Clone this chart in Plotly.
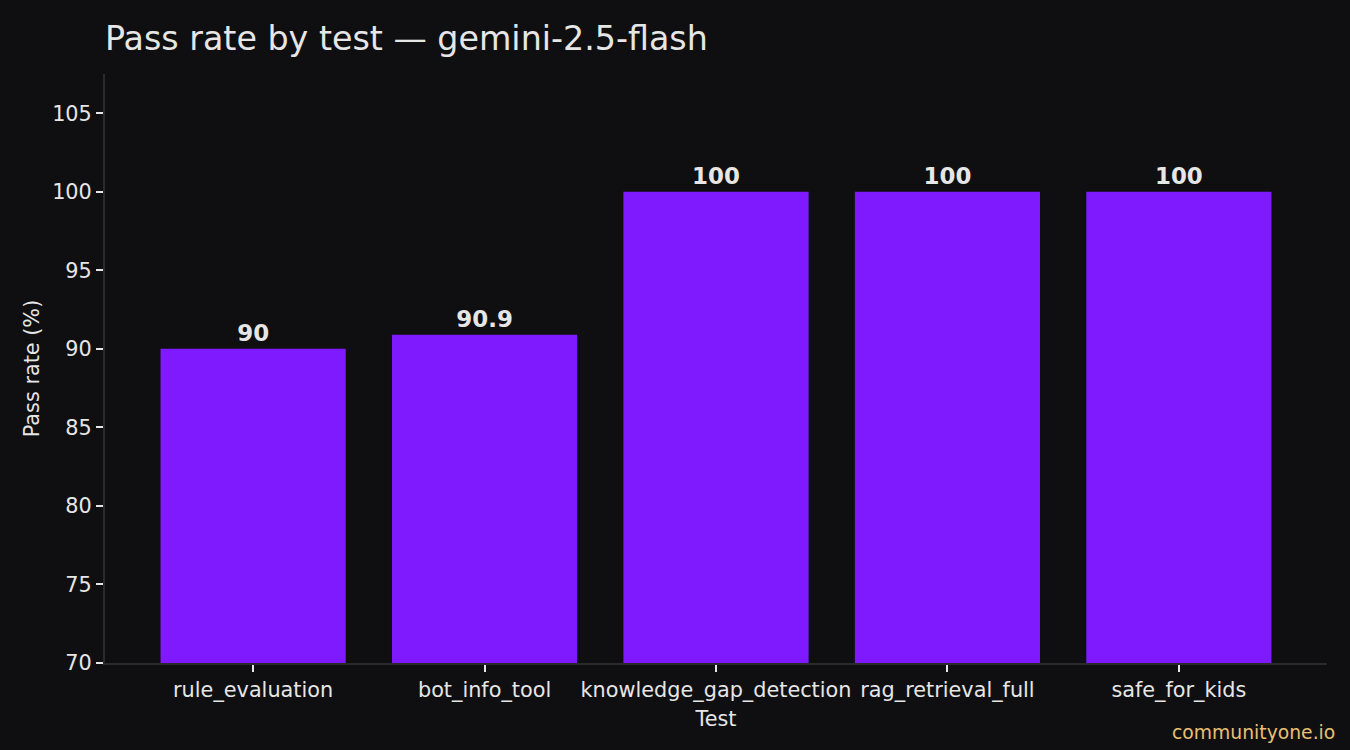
import plotly.graph_objects as go

tests = ["rule_evaluation", "bot_info_tool", "knowledge_gap_detection", "rag_retrieval_full", "safe_for_kids"]
pass_rates = [90, 90.9, 100, 100, 100]
labels = ["90", "90.9", "100", "100", "100"]

BG = "#0f0f11"
TXT = "#e6e6e6"
SPINE = "#2a2a2d"
BAR = "#7f1aff"
FONT = "DejaVu Sans"
FS = 20.8

fig = go.Figure(go.Bar(
    x=list(range(len(tests))), y=pass_rates, width=0.8,
    marker=dict(color=BAR, line=dict(width=0)),
    text=labels, textposition="outside", cliponaxis=False,
    texttemplate="<b>%{text}</b>",
    textfont=dict(family=FONT, size=22.9, color=TXT),
))

fig.update_layout(
    width=1350, height=750,
    paper_bgcolor=BG, plot_bgcolor=BG,
    margin=dict(l=105, r=23, t=74, b=87),
    font=dict(family=FONT, color=TXT, size=FS),
    title=dict(text="Pass rate by test — gemini-2.5-flash", x=105/1350, xanchor="left",
               y=1 - 38/750, yanchor="middle", font=dict(size=33.3, color=TXT, family=FONT)),
    showlegend=False,
    bargap=0.2,
)
fig.update_xaxes(
    range=[-0.64, 4.64], tickmode="array", tickvals=list(range(len(tests))), ticktext=tests,
    showgrid=False, zeroline=False, showline=True, linecolor=SPINE, linewidth=2,
    ticks="outside", ticklen=7, tickcolor=TXT, tickwidth=1.5,
    title=dict(text="Test", font=dict(size=FS, color=TXT), standoff=10),
    tickfont=dict(size=FS, color=TXT),
)
fig.update_yaxes(
    range=[70, 107.5], tickvals=[70, 75, 80, 85, 90, 95, 100, 105],
    showgrid=False, zeroline=False, showline=True, linecolor=SPINE, linewidth=2,
    ticks="outside", ticklen=7, tickcolor=TXT, tickwidth=1.5,
    title=dict(text="Pass rate (%)", font=dict(size=FS, color=TXT), standoff=7),
    tickfont=dict(size=FS, color=TXT),
)
fig.add_annotation(text="communityone.io", xref="paper", yref="paper",
                   x=(1337 - 105) / (1350 - 105 - 23), y=-(732 - 663) / (663 - 74),
                   xanchor="right", yanchor="middle", showarrow=False,
                   font=dict(family=FONT, size=18.75, color="#e8c070"))

fig.write_html("out.html", config={"displayModeBar": False},
               post_script="document.body.style.margin='0';document.body.style.background='" + BG + "';")
